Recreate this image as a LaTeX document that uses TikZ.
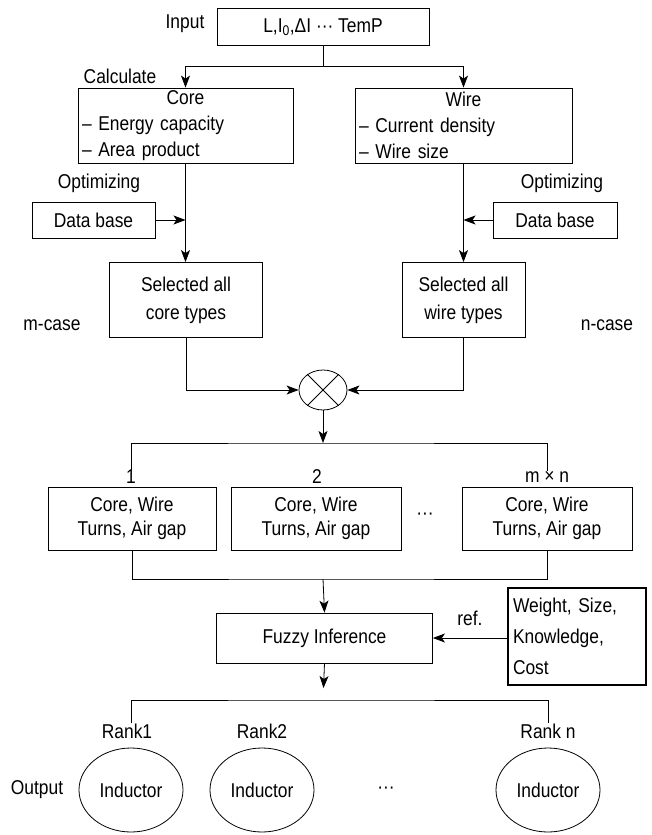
\documentclass[tikz,border=0pt]{standalone}
\usepackage{fontspec}
\setmainfont{Liberation Sans}[FakeStretch=0.87]
\usetikzlibrary{arrows.meta,shapes.geometric}

\begin{document}
\begin{tikzpicture}[
  x=1pt, y=-1pt,
  every node/.style={font=\fontsize{20}{26}\selectfont, inner sep=0pt},
  box/.style={draw, line width=0.8pt, align=center},
  listbox/.style={draw, line width=0.8pt, align=left, inner xsep=4pt},
  link/.style={line width=0.8pt},
  arr/.style={link, -{Stealth[length=12pt,width=9pt,inset=3pt]}},
  unit/.style={draw, ellipse, line width=0.8pt, minimum width=104pt, minimum height=84pt},
]
\useasboundingbox (0,0) rectangle (652,835);

% ─── INPUT ───
\node (inlab) at (185,24) {Input};
\node[box, minimum width=212pt, minimum height=37pt] (input) at (323,27) {L,I\textsubscript{0},ΔI ··· TemP};
\coordinate (junc) at (323,66);
\node (calc) at (120,76) {Calculate};

% ─── CORE / WIRE ───
\node[listbox, text width=207pt, minimum height=75pt] (core) at (185.5,125.5)
  {\makebox[\hsize]{Core}\\– Energy capacity\\– Area product};
\node[listbox, text width=209pt, minimum height=75pt] (wire) at (463.5,125.5)
  {\makebox[\hsize]{Wire}\\– Current density\\– Wire size};

% ─── DATA BASE ───
\node (optl) at (99,183) {Optimizing};
\node (optr) at (562,183) {Optimizing};
\node[box, minimum width=123pt, minimum height=36pt] (dbl) at (93.5,220) {Data base};
\node[box, minimum width=124pt, minimum height=36pt] (dbr) at (555,220) {Data base};

% ─── SELECTED TYPES ───
\node[box, minimum width=153pt, minimum height=75pt] (selcore) at (186,300) {Selected all\\[2pt]core types};
\node[box, minimum width=123pt, minimum height=75pt] (selwire) at (463.5,300) {Selected all\\[2pt]wire types};
\node (mcase) at (52,325) {m-case};
\node (ncase) at (607,325) {n-case};
\node[draw, ellipse, line width=0.8pt, minimum width=48pt, minimum height=40pt] (mult) at (323,390) {};
\draw[link] (mult.45) -- (mult.225) (mult.135) -- (mult.315);

% ─── COMBINATIONS ───
\coordinate (fan1) at (323,443);
\node (lab1) at (131,477) {1};
\node (lab2) at (317,477) {2};
\node (labmn) at (547,477) {m × n};
\node[box, minimum width=168pt, minimum height=63pt] (b1) at (132,518.5) {Core, Wire\\[-2pt]Turns, Air gap};
\node[box, minimum width=170pt, minimum height=63pt] (b2) at (316,518.5) {Core, Wire\\[-2pt]Turns, Air gap};
\node (bdots) at (425,516) {···};
\node[box, minimum width=170pt, minimum height=63pt] (b3) at (547,518.5) {Core, Wire\\[-2pt]Turns, Air gap};
\coordinate (fan2) at (323,579);

% ─── FUZZY ───
\node[box, minimum width=216pt, minimum height=50pt] (fuzzy) at (324.5,638) {Fuzzy Inference};
\node[draw, line width=1.3pt, align=left, inner xsep=5pt, text width=128pt, minimum height=97pt] (weight) at (577,636.5)
  {Weight, Size,\\[5pt]Knowledge,\\[5pt]Cost};
\node (ref) at (470,618) {ref.};
\coordinate (fan3) at (323,700);

% ─── OUTPUT ───
\node (outlab) at (37,790) {Output};
\node (rank1) at (127,731) {Rank1};
\node (rank2) at (262,731) {Rank2};
\node (rankn) at (548,731) {Rank n};
\node[unit] (ind1) at (131,790) {Inductor};
\node[unit] (ind2) at (262,790) {Inductor};
\node (odots) at (386,790) {···};
\node[unit] (indn) at (548,790) {Inductor};

% ─── CONNECTORS ───
\draw[link] (input.south) -- (junc);
\draw[arr] (junc) -| (core.north);
\draw[arr] (junc) -| (wire.north);
\draw[arr] (core.south) -- (core.south |- selcore.north);
\draw[arr] (wire.south) -- (wire.south |- selwire.north);
\draw[arr] (dbl.east) -- (dbl.east -| core.south);
\draw[arr] (dbr.west) -- (dbr.west -| wire.south);
\draw[arr] (selcore.south) |- (mult.west);
\draw[arr] (selwire.south) |- (mult.east);
\draw[arr] (mult.south) -- (fan1);
\draw[link] (lab1.north) |- (fan1) -| (labmn.north);
\draw[link] (b1.south) |- (fan2) -| (b3.south);
\draw[arr] (fan2) -- (fuzzy.north);
\draw[arr] (weight.west |- fuzzy.east) -- (fuzzy.east);
\draw[arr, shorten >=12pt] (fuzzy.south) -- (fan3);
\draw[link] (ind1 |- rank1.north) |- (fan3) -| (indn |- rankn.north);

\end{tikzpicture}
\end{document}
